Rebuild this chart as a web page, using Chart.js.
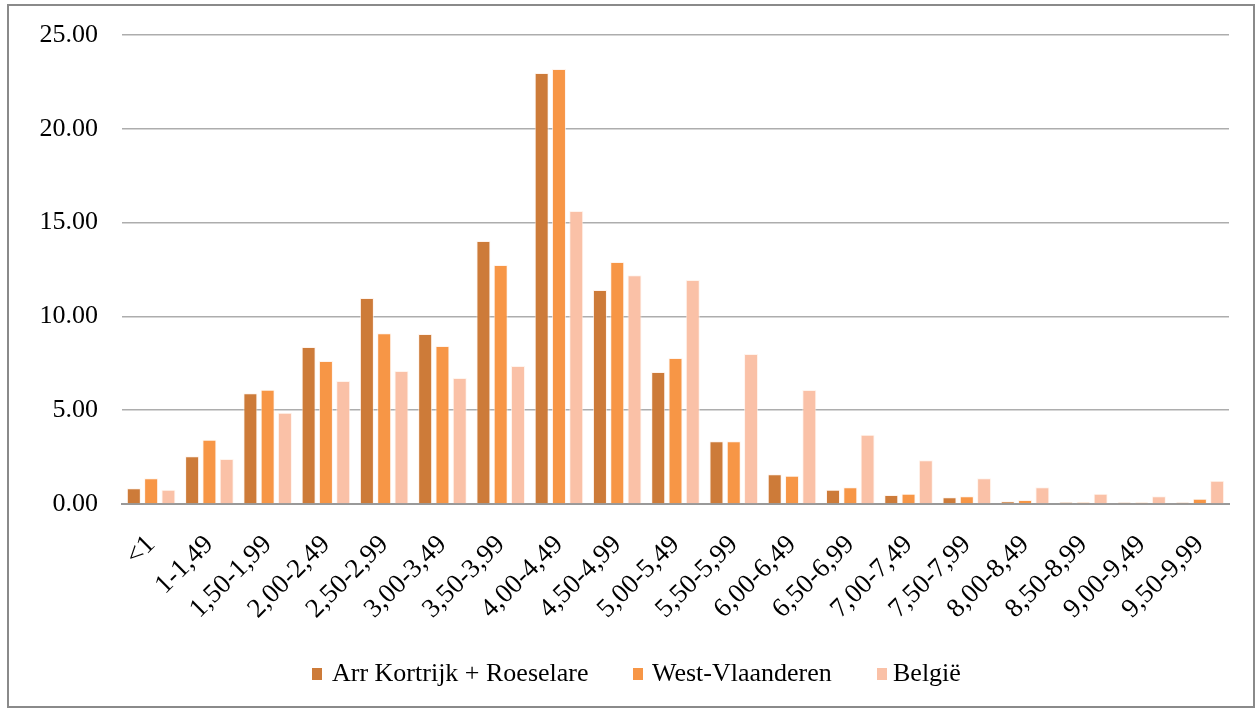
<!DOCTYPE html>
<html>
<head>
<meta charset="utf-8">
<script src="https://cdn.jsdelivr.net/npm/chart.js@4.4.1/dist/chart.umd.min.js"></script>
<style>
  html, body { margin: 0; padding: 0; background: #ffffff; }
  body { width: 1256px; height: 708px; position: relative; overflow: hidden; }
  #frame { position: absolute; left: 7px; top: 4px; width: 1248px; height: 704px; box-sizing: border-box; border: 2px solid #8a8a8a; background: #fff; }
  #wrap { position: absolute; left: 0; top: 0; width: 1244px; height: 700px; }
  .lg { position: absolute; font-family: "Liberation Serif", "Times New Roman", serif; font-size: 26px; line-height: 26px; color: #000; white-space: nowrap; }
  .sw { position: absolute; width: 10px; height: 12px; }
</style>
</head>
<body>
<div id="frame"><div id="wrap"><canvas id="c" width="1244" height="700"></canvas></div></div>
<div id="legend"></div>
<script>
const categories = ['<1','1-1,49','1,50-1,99','2,00-2,49','2,50-2,99','3,00-3,49','3,50-3,99','4,00-4,49','4,50-4,99','5,00-5,49','5,50-5,99','6,00-6,49','6,50-6,99','7,00-7,49','7,50-7,99','8,00-8,49','8,50-8,99','9,00-9,49','9,50-9,99'];
const seriesNames = ['Arr Kortrijk + Roeselare', 'West-Vlaanderen', 'België'];
const arrKortrijkRoeselare = [0.84, 2.54, 5.90, 8.37, 10.98, 9.06, 14.02, 22.97, 11.41, 7.04, 3.34, 1.58, 0.76, 0.48, 0.36, 0.14, 0.09, 0.08, 0.08];
const westVlaanderen      = [1.37, 3.43, 6.09, 7.62, 9.10, 8.42, 12.74, 23.19, 12.90, 7.78, 3.34, 1.51, 0.89, 0.55, 0.41, 0.21, 0.09, 0.08, 0.28];
const belgie              = [0.76, 2.40, 4.87, 6.56, 7.09, 6.72, 7.36, 15.62, 12.20, 11.94, 8.00, 6.08, 3.69, 2.33, 1.37, 0.89, 0.55, 0.41, 1.24];
const yTicks = [0, 5, 10, 15, 20, 25];

const colors = ['#CD7B39', '#F79646', '#FAC1A7'];
const FONT = '"Liberation Serif", "Times New Roman", serif';

// HTML legend (text kept as real text)
const legendPos = [{box: 312, text: 332}, {box: 633, text: 652}, {box: 877, text: 893}];
const lgEl = document.getElementById('legend');
seriesNames.forEach((name, i) => {
  const sw = document.createElement('div');
  sw.className = 'sw';
  sw.style.left = legendPos[i].box + 'px';
  sw.style.top = '668px';
  sw.style.background = colors[i];
  lgEl.appendChild(sw);
  const t = document.createElement('div');
  t.className = 'lg';
  t.style.left = legendPos[i].text + 'px';
  t.style.top = '660px';
  t.textContent = name;
  lgEl.appendChild(t);
});

const data = {
  labels: categories,
  datasets: [arrKortrijkRoeselare, westVlaanderen, belgie].map((vals, i) => ({
    label: seriesNames[i],
    data: vals,
    backgroundColor: colors[i],
    borderColor: 'rgba(255,240,230,0.7)',
    borderWidth: 1,
    categoryPercentage: 0.89,
    barPercentage: 0.81
  }))
};

new Chart(document.getElementById('c'), {
  type: 'bar',
  data: data,
  options: {
    responsive: false,
    animation: false,
    layout: { padding: { left: 0, right: 24, top: 29, bottom: 0 } },
    plugins: {
      tooltip: { enabled: false },
      legend: { display: false }
    },
    scales: {
      x: {
        grid: { display: false, drawTicks: false },
        border: { display: true, color: '#999999', width: 2 },
        ticks: {
          font: { family: FONT, size: 27 },
          color: '#000',
          maxRotation: 45,
          minRotation: 45,
          autoSkip: false,
          padding: 25
        },
        afterFit: (s) => { s.height = 202; s.paddingLeft = 0; s.paddingRight = 0; }
      },
      y: {
        min: 0,
        max: 25,
        afterBuildTicks: (s) => { s.ticks = yTicks.map(v => ({ value: v })); },
        grid: { color: '#ADADAD', lineWidth: 1.5, drawTicks: false },
        border: { display: false },
        ticks: {
          font: { family: FONT, size: 26 },
          color: '#000',
          padding: 24,
          callback: (v) => Number(v).toFixed(2)
        },
        afterFit: (s) => { s.width = 113; s.paddingTop = 0; s.paddingBottom = 0; }
      }
    }
  }
});
</script>
</body>
</html>
